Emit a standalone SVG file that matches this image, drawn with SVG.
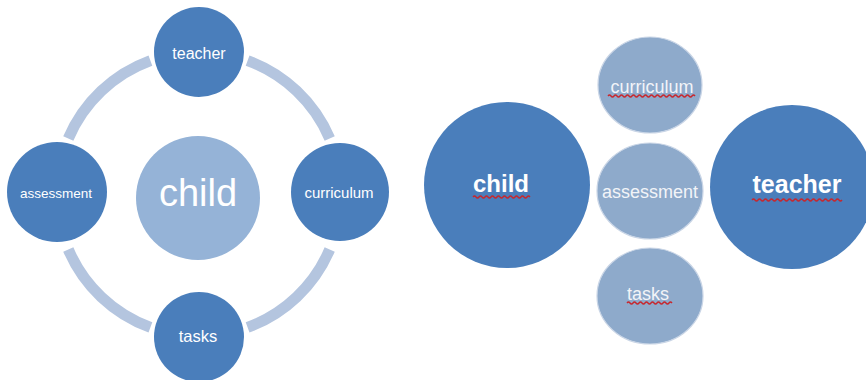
<svg xmlns="http://www.w3.org/2000/svg" width="866" height="380" viewBox="0 0 866 380">
<style>
.node{fill:#4a7ebb}
.center{fill:#95b3d7}
.small{fill:#8eaacb;stroke:#c9d5e6;stroke-width:1.2}
.ring{fill:none;stroke:#b4c5df;stroke-width:11}
.t{font-family:"Liberation Sans",Arial,sans-serif;fill:#ffffff;text-anchor:middle}
.ts{font-family:"Liberation Sans",Arial,sans-serif;fill:#f2f4f8;text-anchor:middle}
.b{font-weight:bold}
.wave{fill:none;stroke:#c8262c;stroke-width:1.3}
</style>
<rect width="866" height="380" fill="#ffffff"/>
<g id="connectors">
<path class="ring" d="M247.6 60.6 A142 142 0 0 1 329.7 138.5"/>
<path class="ring" d="M329.7 249.5 A142 142 0 0 1 247.6 327.4"/>
<path class="ring" d="M150.4 327.4 A142 142 0 0 1 68.3 249.5"/>
<path class="ring" d="M68.3 138.5 A142 142 0 0 1 150.4 60.6"/>
</g>
<g id="left-child"><circle class="center" cx="198" cy="198" r="62"/><text class="t" x="198" y="206" font-size="38">child</text></g>
<g id="left-teacher"><circle class="node" cx="199" cy="52" r="45"/><text class="t" x="199" y="59" font-size="16">teacher</text></g>
<g id="left-curriculum"><circle class="node" cx="340" cy="192" r="49"/><text class="t" x="339" y="198" font-size="15">curriculum</text></g>
<g id="left-assessment"><circle class="node" cx="57" cy="192" r="50"/><text class="t" x="56" y="198" font-size="13.5">assessment</text></g>
<g id="left-tasks"><circle class="node" cx="199" cy="337" r="45"/><text class="t" x="198" y="342" font-size="16.5">tasks</text></g>
<g id="right-child"><circle class="node" cx="507" cy="185" r="83"/><text class="t b" x="501" y="192" font-size="24">child</text>
<path class="wave" d="M473 197 q1.5 -2 3 0 t3 0 t3 0 t3 0 t3 0 t3 0 t3 0 t3 0 t3 0 t3 0 t3 0 t3 0 t3 0 t3 0 t3 0 t3 0 t3 0 t3 0 t3 0"/></g>
<g id="right-teacher"><circle class="node" cx="792" cy="187" r="82"/><text class="t b" x="797" y="193" font-size="25">teacher</text>
<path class="wave" d="M752 200 q1.5 -2 3 0 t3 0 t3 0 t3 0 t3 0 t3 0 t3 0 t3 0 t3 0 t3 0 t3 0 t3 0 t3 0 t3 0 t3 0 t3 0 t3 0 t3 0 t3 0 t3 0 t3 0 t3 0 t3 0 t3 0 t3 0 t3 0 t3 0 t3 0 t3 0 t3 0"/></g>
<g id="right-curriculum"><ellipse class="small" cx="650" cy="85" rx="52" ry="48"/><text class="ts" x="652" y="93" font-size="18">curriculum</text>
<path class="wave" d="M608 96 q1.5 -2 3 0 t3 0 t3 0 t3 0 t3 0 t3 0 t3 0 t3 0 t3 0 t3 0 t3 0 t3 0 t3 0 t3 0 t3 0 t3 0 t3 0 t3 0 t3 0 t3 0 t3 0 t3 0 t3 0 t3 0 t3 0 t3 0 t3 0 t3 0 t3 0"/></g>
<g id="right-assessment"><ellipse class="small" cx="650" cy="191" rx="53" ry="48"/><text class="ts" x="650" y="198" font-size="18">assessment</text></g>
<g id="right-tasks"><ellipse class="small" cx="650" cy="296" rx="53" ry="48"/><text class="ts" x="648" y="300" font-size="18">tasks</text>
<path class="wave" d="M627 303 q1.5 -2 3 0 t3 0 t3 0 t3 0 t3 0 t3 0 t3 0 t3 0 t3 0 t3 0 t3 0 t3 0 t3 0 t3 0 t3 0"/></g>
</svg>
